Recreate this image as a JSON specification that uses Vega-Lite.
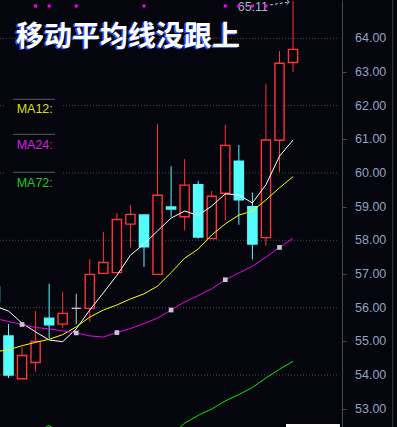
{
  "$schema": "https://vega.github.io/schema/vega-lite/v6.json",
  "width": 342,
  "height": 427,
  "padding": {"left": 0, "top": 0, "right": 55, "bottom": 0},
  "autosize": "none",
  "background": "#05050e",
  "config": {"view": {"stroke": null}, "font": "Liberation Sans"},
  "datasets": {
    "candles": [
      {"i":0,"o":56.62,"c":56.18,"h":56.73,"l":56.03,"d":"down"},
      {"i":1,"o":55.16,"c":54.00,"h":55.51,"l":53.91,"d":"down"},
      {"i":2,"o":53.89,"c":54.58,"h":54.83,"l":53.88,"d":"up"},
      {"i":3,"o":54.37,"c":55.00,"h":55.90,"l":54.10,"d":"up"},
      {"i":4,"o":55.69,"c":55.49,"h":56.71,"l":55.09,"d":"down"},
      {"i":5,"o":55.51,"c":55.83,"h":56.46,"l":55.39,"d":"up"},
      {"i":6,"o":55.98,"c":55.98,"h":56.41,"l":55.51,"d":"flat"},
      {"i":7,"o":55.98,"c":56.99,"h":57.44,"l":55.58,"d":"up"},
      {"i":8,"o":57.02,"c":57.34,"h":58.25,"l":57.02,"d":"up"},
      {"i":9,"o":57.04,"c":58.62,"h":58.81,"l":57.04,"d":"up"},
      {"i":10,"o":58.48,"c":58.77,"h":59.05,"l":57.78,"d":"up"},
      {"i":11,"o":58.75,"c":57.81,"h":58.75,"l":57.21,"d":"down"},
      {"i":12,"o":56.99,"c":59.34,"h":61.46,"l":56.99,"d":"up"},
      {"i":13,"o":58.99,"c":58.93,"h":60.20,"l":58.70,"d":"down"},
      {"i":14,"o":58.70,"c":59.64,"h":60.41,"l":58.29,"d":"up"},
      {"i":15,"o":59.65,"c":58.10,"h":59.77,"l":58.05,"d":"down"},
      {"i":16,"o":58.05,"c":59.31,"h":59.47,"l":58.05,"d":"up"},
      {"i":17,"o":59.40,"c":60.82,"h":61.43,"l":58.60,"d":"up"},
      {"i":18,"o":60.35,"c":59.20,"h":60.83,"l":58.46,"d":"down"},
      {"i":19,"o":59.00,"c":57.89,"h":59.42,"l":57.43,"d":"down"},
      {"i":20,"o":58.08,"c":60.98,"h":62.65,"l":57.84,"d":"up"},
      {"i":21,"o":60.97,"c":63.26,"h":63.62,"l":60.03,"d":"up"},
      {"i":22,"o":63.28,"c":63.67,"h":65.11,"l":63.00,"d":"up"}
    ],
    "ma": [
      {"i":0,"s":"MA5","v":56.05},{"i":1,"s":"MA5","v":55.90},{"i":2,"s":"MA5","v":55.54},{"i":3,"s":"MA5","v":55.28},
      {"i":4,"s":"MA5","v":55.04},{"i":5,"s":"MA5","v":54.99},{"i":6,"s":"MA5","v":55.37},{"i":7,"s":"MA5","v":55.93},
      {"i":8,"s":"MA5","v":56.44},{"i":9,"s":"MA5","v":56.96},{"i":10,"s":"MA5","v":57.56},{"i":11,"s":"MA5","v":57.89},
      {"i":12,"s":"MA5","v":58.28},{"i":13,"s":"MA5","v":58.66},{"i":14,"s":"MA5","v":58.87},{"i":15,"s":"MA5","v":58.74},
      {"i":16,"s":"MA5","v":59.02},{"i":17,"s":"MA5","v":59.38},{"i":18,"s":"MA5","v":59.35},{"i":19,"s":"MA5","v":59.11},
      {"i":20,"s":"MA5","v":59.65},{"i":21,"s":"MA5","v":60.50},{"i":22,"s":"MA5","v":60.98},
      {"i":0,"s":"MA12","v":54.69},{"i":1,"s":"MA12","v":54.75},{"i":2,"s":"MA12","v":54.87},{"i":3,"s":"MA12","v":54.97},
      {"i":4,"s":"MA12","v":55.06},{"i":5,"s":"MA12","v":55.20},{"i":6,"s":"MA12","v":55.43},{"i":7,"s":"MA12","v":55.72},
      {"i":8,"s":"MA12","v":55.93},{"i":9,"s":"MA12","v":56.08},{"i":10,"s":"MA12","v":56.26},{"i":11,"s":"MA12","v":56.41},
      {"i":12,"s":"MA12","v":56.64},{"i":13,"s":"MA12","v":57.04},{"i":14,"s":"MA12","v":57.47},{"i":15,"s":"MA12","v":57.74},
      {"i":16,"s":"MA12","v":58.16},{"i":17,"s":"MA12","v":58.49},{"i":18,"s":"MA12","v":58.75},{"i":19,"s":"MA12","v":58.87},
      {"i":20,"s":"MA12","v":59.20},{"i":21,"s":"MA12","v":59.56},{"i":22,"s":"MA12","v":59.89},
      {"i":0,"s":"MA24","v":55.68},{"i":1,"s":"MA24","v":55.59},{"i":2,"s":"MA24","v":55.50},{"i":3,"s":"MA24","v":55.41},
      {"i":4,"s":"MA24","v":55.37},{"i":5,"s":"MA24","v":55.31},{"i":6,"s":"MA24","v":55.25},{"i":7,"s":"MA24","v":55.16},
      {"i":8,"s":"MA24","v":55.13},{"i":9,"s":"MA24","v":55.26},{"i":10,"s":"MA24","v":55.38},{"i":11,"s":"MA24","v":55.53},
      {"i":12,"s":"MA24","v":55.69},{"i":13,"s":"MA24","v":55.93},{"i":14,"s":"MA24","v":56.17},{"i":15,"s":"MA24","v":56.36},
      {"i":16,"s":"MA24","v":56.56},{"i":17,"s":"MA24","v":56.83},{"i":18,"s":"MA24","v":57.03},{"i":19,"s":"MA24","v":57.23},
      {"i":20,"s":"MA24","v":57.50},{"i":21,"s":"MA24","v":57.79},{"i":22,"s":"MA24","v":58.06},
      {"i":0,"s":"MA72","v":51.80},{"i":1,"s":"MA72","v":51.90},{"i":2,"s":"MA72","v":52.10},{"i":3,"s":"MA72","v":52.30},
      {"i":4,"s":"MA72","v":52.50},{"i":5,"s":"MA72","v":52.20},{"i":6,"s":"MA72","v":52.00},{"i":7,"s":"MA72","v":51.95},
      {"i":8,"s":"MA72","v":51.95},{"i":9,"s":"MA72","v":52.00},{"i":10,"s":"MA72","v":52.05},{"i":11,"s":"MA72","v":52.10},
      {"i":12,"s":"MA72","v":52.15},{"i":13,"s":"MA72","v":52.20},{"i":14,"s":"MA72","v":52.57},{"i":15,"s":"MA72","v":52.80},
      {"i":16,"s":"MA72","v":52.99},{"i":17,"s":"MA72","v":53.23},{"i":18,"s":"MA72","v":53.42},{"i":19,"s":"MA72","v":53.63},
      {"i":20,"s":"MA72","v":53.91},{"i":21,"s":"MA72","v":54.17},{"i":22,"s":"MA72","v":54.41}
    ],
    "grid": [{"g":54},{"g":56},{"g":58},{"g":60},{"g":62},{"g":64}],
    "ticks": [{"t":53},{"t":54},{"t":55},{"t":56},{"t":57},{"t":58},{"t":59},{"t":60},{"t":61},{"t":62},{"t":63},{"t":64}],
    "dots": [{"i":3},{"i":4},{"i":6},{"i":11},{"i":17},{"i":18},{"i":19},{"i":20}]
  },
  "layer": [
    {
      "data": {"name": "grid"},
      "mark": {"type": "rule", "color": "#4a4a4e", "strokeWidth": 1, "strokeDash": [1, 2]},
      "encoding": {
        "y": {"field": "g", "type": "quantitative", "scale": {"domain": [52.456, 65.1375], "nice": false, "zero": false, "padding": 0}},
        "x": {"datum": 0.373, "type": "quantitative", "scale": {"domain": [0.373, 25.613], "nice": false, "zero": false, "padding": 0}, "axis": null},
        "x2": {"datum": 25.32}
      }
    },
    {
      "data": {"name": "ticks"},
      "mark": {"type": "text", "align": "left", "baseline": "middle", "dx": 13, "fontSize": 12.5, "color": "#8ea4c0"},
      "encoding": {
        "x": {"datum": 25.613, "type": "quantitative", "scale": {"domain": [0.373, 25.613], "nice": false, "zero": false, "padding": 0}, "axis": null},
        "y": {"field": "t", "type": "quantitative", "scale": {"domain": [52.456, 65.1375], "nice": false, "zero": false, "padding": 0}},
        "text": {"field": "t", "type": "quantitative", "format": ".2f"}
      }
    },
    {
      "data": {"values": [{}]},
      "mark": {"type": "rect", "fill": "#05050e"},
      "encoding": {
        "x": {"datum": 0.815, "type": "quantitative", "scale": {"domain": [0.373, 25.613], "nice": false, "zero": false, "padding": 0}, "axis": null},
        "x2": {"datum": 5.02},
        "y": {"datum": 62.286, "type": "quantitative", "scale": {"domain": [52.456, 65.1375], "nice": false, "zero": false, "padding": 0}},
        "y2": {"datum": 59.435}
      }
    },
    {
      "data": {"values": [{"y": 62.188}, {"y": 61.149}, {"y": 60.02}]},
      "mark": {"type": "rule", "color": "#4a4a50", "strokeWidth": 1.2},
      "encoding": {
        "y": {"field": "y", "type": "quantitative", "scale": {"domain": [52.456, 65.1375], "nice": false, "zero": false, "padding": 0}},
        "x": {"datum": 1.33, "type": "quantitative", "scale": {"domain": [0.373, 25.613], "nice": false, "zero": false, "padding": 0}, "axis": null},
        "x2": {"datum": 4.43}
      }
    },
    {
      "data": {"values": [{}]},
      "mark": {"type": "text", "text": "MA12:", "color": "#dce000", "fontSize": 12.5, "align": "left", "baseline": "alphabetic"},
      "encoding": {
        "x": {"datum": 1.6, "type": "quantitative", "scale": {"domain": [0.373, 25.613], "nice": false, "zero": false, "padding": 0}, "axis": null},
        "y": {"datum": 61.773, "type": "quantitative", "scale": {"domain": [52.456, 65.1375], "nice": false, "zero": false, "padding": 0}}
      }
    },
    {
      "data": {"values": [{}]},
      "mark": {"type": "text", "text": "MA24:", "color": "#d820e0", "fontSize": 12.5, "align": "left", "baseline": "alphabetic"},
      "encoding": {
        "x": {"datum": 1.6, "type": "quantitative", "scale": {"domain": [0.373, 25.613], "nice": false, "zero": false, "padding": 0}, "axis": null},
        "y": {"datum": 60.727, "type": "quantitative", "scale": {"domain": [52.456, 65.1375], "nice": false, "zero": false, "padding": 0}}
      }
    },
    {
      "data": {"values": [{}]},
      "mark": {"type": "text", "text": "MA72:", "color": "#20c820", "fontSize": 12.5, "align": "left", "baseline": "alphabetic"},
      "encoding": {
        "x": {"datum": 1.6, "type": "quantitative", "scale": {"domain": [0.373, 25.613], "nice": false, "zero": false, "padding": 0}, "axis": null},
        "y": {"datum": 59.593, "type": "quantitative", "scale": {"domain": [52.456, 65.1375], "nice": false, "zero": false, "padding": 0}}
      }
    },
    {
      "data": {"name": "candles"},
      "mark": {"type": "rule", "strokeWidth": 1, "clip": true},
      "encoding": {
        "x": {"field": "i", "type": "quantitative", "scale": {"domain": [0.373, 25.613], "nice": false, "zero": false, "padding": 0}, "axis": null},
        "y": {"field": "l", "type": "quantitative", "scale": {"domain": [52.456, 65.1375], "nice": false, "zero": false, "padding": 0},
          "axis": {"orient": "right", "values": [53,54,55,56,57,58,59,60,61,62,63,64], "labels": false,
            "tickSize": 4, "tickColor": "#4a4a52", "domainColor": "#4a4a52", "grid": false, "title": null}},
        "y2": {"field": "h"},
        "stroke": {"field": "d", "type": "nominal", "scale": {"domain": ["up", "down", "flat"], "range": ["#ff3434", "#54fcfc", "#c8c8c8"]}, "legend": null}
      }
    },
    {
      "data": {"name": "candles"},
      "mark": {"type": "bar", "width": 9.2, "strokeWidth": 1.4, "clip": true},
      "encoding": {
        "x": {"field": "i", "type": "quantitative", "scale": {"domain": [0.373, 25.613], "nice": false, "zero": false, "padding": 0}, "axis": null},
        "y": {"field": "o", "type": "quantitative", "scale": {"domain": [52.456, 65.1375], "nice": false, "zero": false, "padding": 0}},
        "y2": {"field": "c"},
        "fill": {"field": "d", "type": "nominal", "scale": {"domain": ["up", "down", "flat"], "range": ["#05050e", "#54fcfc", "#c8c8c8"]}, "legend": null},
        "stroke": {"field": "d", "type": "nominal", "scale": {"domain": ["up", "down", "flat"], "range": ["#ff3434", "#54fcfc", "#c8c8c8"]}, "legend": null}
      }
    },
    {
      "data": {"name": "ma"},
      "mark": {"type": "line", "strokeWidth": 1, "clip": true},
      "encoding": {
        "x": {"field": "i", "type": "quantitative", "scale": {"domain": [0.373, 25.613], "nice": false, "zero": false, "padding": 0}, "axis": null},
        "y": {"field": "v", "type": "quantitative", "scale": {"domain": [52.456, 65.1375], "nice": false, "zero": false, "padding": 0}},
        "color": {"field": "s", "type": "nominal", "scale": {"domain": ["MA72", "MA24", "MA12", "MA5"], "range": ["#00ee00", "#f000f0", "#ffff00", "#ffffff"]}, "legend": null},
        "order": {"field": "i", "type": "quantitative"}
      }
    },
    {
      "data": {"name": "ma"},
      "transform": [{"filter": "datum.s == 'MA24' && indexof([2, 6, 9, 13, 17, 21], datum.i) >= 0"}],
      "mark": {"type": "point", "shape": "square", "filled": true, "size": 22, "color": "#c8c8d0", "opacity": 1},
      "encoding": {
        "x": {"field": "i", "type": "quantitative", "scale": {"domain": [0.373, 25.613], "nice": false, "zero": false, "padding": 0}, "axis": null},
        "y": {"field": "v", "type": "quantitative", "scale": {"domain": [52.456, 65.1375], "nice": false, "zero": false, "padding": 0}}
      }
    },
    {
      "data": {"name": "candles"},
      "transform": [{"filter": "datum.i == 22"}],
      "mark": {"type": "text", "align": "right", "baseline": "middle", "dx": -25, "dy": 6.5, "fontSize": 12.5, "color": "#a8b4c8"},
      "encoding": {
        "x": {"field": "i", "type": "quantitative", "scale": {"domain": [0.373, 25.613], "nice": false, "zero": false, "padding": 0}, "axis": null},
        "y": {"field": "h", "type": "quantitative", "scale": {"domain": [52.456, 65.1375], "nice": false, "zero": false, "padding": 0}},
        "text": {"field": "h", "type": "quantitative", "format": ".2f"}
      }
    },
    {
      "data": {"name": "dots"},
      "mark": {"type": "point", "shape": "square", "filled": true, "size": 9, "color": "#ff00ff", "opacity": 1, "dx": 2.7},
      "encoding": {
        "x": {"field": "i", "type": "quantitative", "scale": {"domain": [0.373, 25.613], "nice": false, "zero": false, "padding": 0}, "axis": null},
        "y": {"datum": 64.96, "type": "quantitative", "scale": {"domain": [52.456, 65.1375], "nice": false, "zero": false, "padding": 0}}
      }
    },
    {
      "data": {"values": [{}]},
      "mark": {"type": "rule", "color": "#c0c8d8", "strokeWidth": 1, "strokeDash": [3, 2]},
      "encoding": {
        "x": {"datum": 20.3, "type": "quantitative", "scale": {"domain": [0.373, 25.613], "nice": false, "zero": false, "padding": 0}, "axis": null},
        "x2": {"datum": 21.7},
        "y": {"datum": 64.99, "type": "quantitative", "scale": {"domain": [52.456, 65.1375], "nice": false, "zero": false, "padding": 0}},
        "y2": {"datum": 65.078}
      }
    },
    {
      "data": {"values": [{}]},
      "mark": {"type": "point", "shape": "M-1,-1L0,0L-1,1", "filled": false, "size": 30, "color": "#c0c8d8", "strokeWidth": 1, "opacity": 1},
      "encoding": {
        "x": {"datum": 21.72, "type": "quantitative", "scale": {"domain": [0.373, 25.613], "nice": false, "zero": false, "padding": 0}, "axis": null},
        "y": {"datum": 65.078, "type": "quantitative", "scale": {"domain": [52.456, 65.1375], "nice": false, "zero": false, "padding": 0}}
      }
    },
    {
      "data": {"values": [{}]},
      "mark": {"type": "rule", "color": "#3c3c42", "strokeWidth": 1},
      "encoding": {
        "x": {"datum": 29.354, "type": "quantitative", "scale": {"domain": [0.373, 25.613], "nice": false, "zero": false, "padding": 0}, "axis": null}
      }
    },
    {
      "data": {"values": [{}]},
      "mark": {"type": "rect", "fill": "#ffffff"},
      "encoding": {
        "x": {"datum": 21.48, "type": "quantitative", "scale": {"domain": [0.373, 25.613], "nice": false, "zero": false, "padding": 0}, "axis": null},
        "x2": {"datum": 25.46},
        "y": {"datum": 52.545, "type": "quantitative", "scale": {"domain": [52.456, 65.1375], "nice": false, "zero": false, "padding": 0}},
        "y2": {"datum": 52.456}
      }
    },
    {
      "data": {"values": [{}]},
      "mark": {"type": "text", "text": "移动平均线没跟上", "font": "Noto Sans CJK SC", "fontWeight": "bold", "fontSize": 28, "align": "left", "baseline": "alphabetic", "color": "#2f55ff", "dx": -1.5, "dy": 1.2},
      "encoding": {
        "x": {"datum": 1.553, "type": "quantitative", "scale": {"domain": [0.373, 25.613], "nice": false, "zero": false, "padding": 0}, "axis": null},
        "y": {"datum": 63.786, "type": "quantitative", "scale": {"domain": [52.456, 65.1375], "nice": false, "zero": false, "padding": 0}}
      }
    },
    {
      "data": {"values": [{}]},
      "mark": {"type": "text", "text": "移动平均线没跟上", "font": "Noto Sans CJK SC", "fontWeight": "bold", "fontSize": 28, "align": "left", "baseline": "alphabetic", "color": "#ffffff"},
      "encoding": {
        "x": {"datum": 1.553, "type": "quantitative", "scale": {"domain": [0.373, 25.613], "nice": false, "zero": false, "padding": 0}, "axis": null},
        "y": {"datum": 63.786, "type": "quantitative", "scale": {"domain": [52.456, 65.1375], "nice": false, "zero": false, "padding": 0}}
      }
    }
  ]
}
